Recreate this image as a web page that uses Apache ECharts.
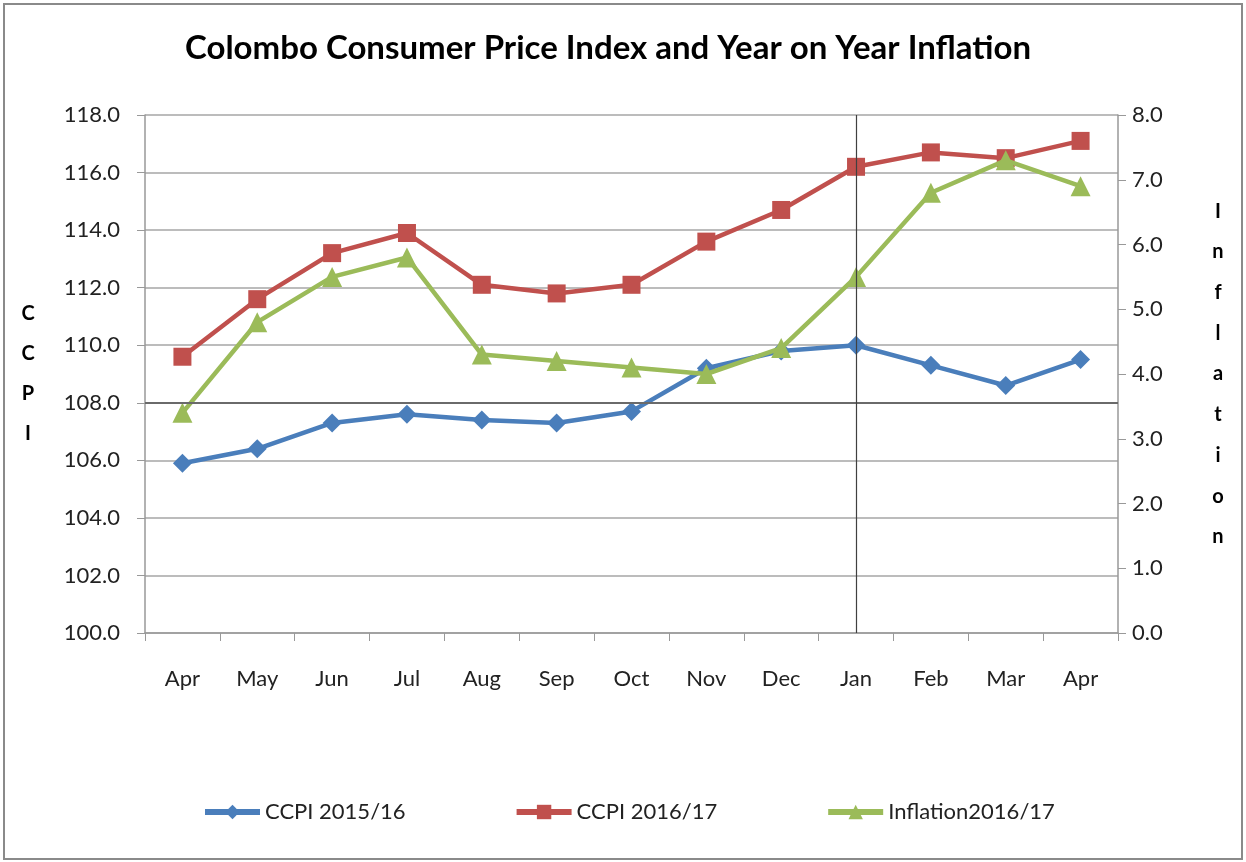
<!DOCTYPE html>
<html>
<head>
<meta charset="utf-8">
<title>Colombo CCPI</title>
<script src="https://cdn.jsdelivr.net/npm/echarts@6/dist/echarts.min.js"></script>
<style>
    html, body { margin: 0; padding: 0; background: #fff; }
    #chart { position: absolute; left: 0; top: 0; width: 1246px; height: 862px; }
    #frame { position: absolute; left: 3px; top: 3px; width: 1236px; height: 853px;
             border: 2px solid #8a8a8a; pointer-events: none; }
</style>
</head>
<body>
<div id="chart"></div>
<div id="frame"></div>
<script>
// months on the x axis (Apr 2016 .. Apr 2017)
var months = ["Apr", "May", "Jun", "Jul", "Aug", "Sep", "Oct", "Nov", "Dec", "Jan", "Feb", "Mar", "Apr"];

// values
var ccpi1516 = [105.9, 106.4, 107.3, 107.6, 107.4, 107.3, 107.7, 109.2, 109.8, 110.0, 109.3, 108.6, 109.5];
var ccpi1617 = [109.6, 111.6, 113.2, 113.9, 112.1, 111.8, 112.1, 113.6, 114.7, 116.2, 116.7, 116.5, 117.1];
var inflation1617 = [3.4, 4.8, 5.5, 5.8, 4.3, 4.2, 4.1, 4.0, 4.4, 5.5, 6.8, 7.3, 6.9];

var seriesNames = ["CCPI 2015/16", "CCPI 2016/17", "Inflation2016/17"];
var FONT = "Lato, 'Open Sans', sans-serif";

var chart = echarts.init(document.getElementById("chart"));

chart.setOption({
    animation: false,
    backgroundColor: "#fff",
    title: {
        text: "Colombo Consumer Price Index and Year on Year Inflation",
        left: 603,
        top: 27,
        textAlign: "center",
        textStyle: { fontFamily: FONT, fontSize: 33, fontWeight: "bold", color: "#000" }
    },
    legend: {
        data: seriesNames,
        left: 197,
        top: 796,
        itemWidth: 55,
        itemHeight: 18,
        itemGap: 108,
        lineStyle: { width: 6 },
        textStyle: { fontFamily: FONT, fontSize: 22, color: "#222" }
    },
    grid: { left: 145, right: 128, top: 115, bottom: 229 },
    xAxis: {
        type: "category",
        data: months,
        axisLine: { lineStyle: { color: "#999", width: 1.5 } },
        axisTick: { show: true, length: 8, lineStyle: { color: "#999" } },
        axisLabel: { margin: 35, fontFamily: FONT, fontSize: 22, color: "#222" }
    },
    yAxis: [{
        type: "value",
        min: 100,
        max: 118,
        interval: 2,
        name: "C\nC\nP\nI",
        nameLocation: "middle",
        nameRotate: 0,
        nameGap: 117,
        nameTextStyle: { fontFamily: FONT, fontSize: 20, fontWeight: "bold", color: "#000",
                         lineHeight: 40, align: "center", verticalAlign: "middle" },
        axisLine: { show: true, lineStyle: { color: "#999", width: 1.5 } },
        axisTick: { show: true, length: 8, lineStyle: { color: "#999" } },
        axisLabel: {
            margin: 25, fontFamily: FONT, fontSize: 22, color: "#222",
            formatter: function (v) { return v.toFixed(1); }
        },
        splitLine: { lineStyle: { color: "#a6a6a6", width: 1.5 } }
    }, {
        type: "value",
        min: 0,
        max: 8,
        interval: 1,
        name: "I\nn\nf\nl\na\nt\ni\no\nn",
        nameLocation: "middle",
        nameRotate: 0,
        nameGap: 100,
        nameTextStyle: { fontFamily: FONT, fontSize: 20, fontWeight: "bold", color: "#000",
                         lineHeight: 40.7, align: "center", verticalAlign: "middle" },
        axisLine: { show: true, lineStyle: { color: "#999", width: 1.5 } },
        axisTick: { show: true, length: 8, lineStyle: { color: "#999" } },
        axisLabel: {
            margin: 14, fontFamily: FONT, fontSize: 22, color: "#222",
            formatter: function (v) { return v.toFixed(1); }
        },
        splitLine: { show: false }
    }],
    series: [{
        name: seriesNames[0],
        type: "line",
        data: ccpi1516,
        symbol: "diamond",
        symbolSize: 19,
        lineStyle: { width: 4.5, color: "#4a7ebb" },
        itemStyle: { color: "#4a7ebb" },
        markLine: {
            silent: true,
            symbol: "none",
            label: { show: false },
            data: [
                { yAxis: 108, lineStyle: { color: "#6a6a6a", width: 2, type: "solid" } },
                { xAxis: "Jan", lineStyle: { color: "#404040", width: 1.2, type: "solid" } }
            ]
        },
        z: 2
    }, {
        name: seriesNames[1],
        type: "line",
        data: ccpi1617,
        symbol: "rect",
        symbolSize: 18,
        lineStyle: { width: 4.5, color: "#c0504d" },
        itemStyle: { color: "#c0504d" },
        z: 3
    }, {
        name: seriesNames[2],
        type: "line",
        yAxisIndex: 1,
        data: inflation1617,
        symbol: "triangle",
        symbolSize: 20,
        lineStyle: { width: 4.5, color: "#9bbb59" },
        itemStyle: { color: "#9bbb59" },
        z: 4
    }]
});
</script>
</body>
</html>
